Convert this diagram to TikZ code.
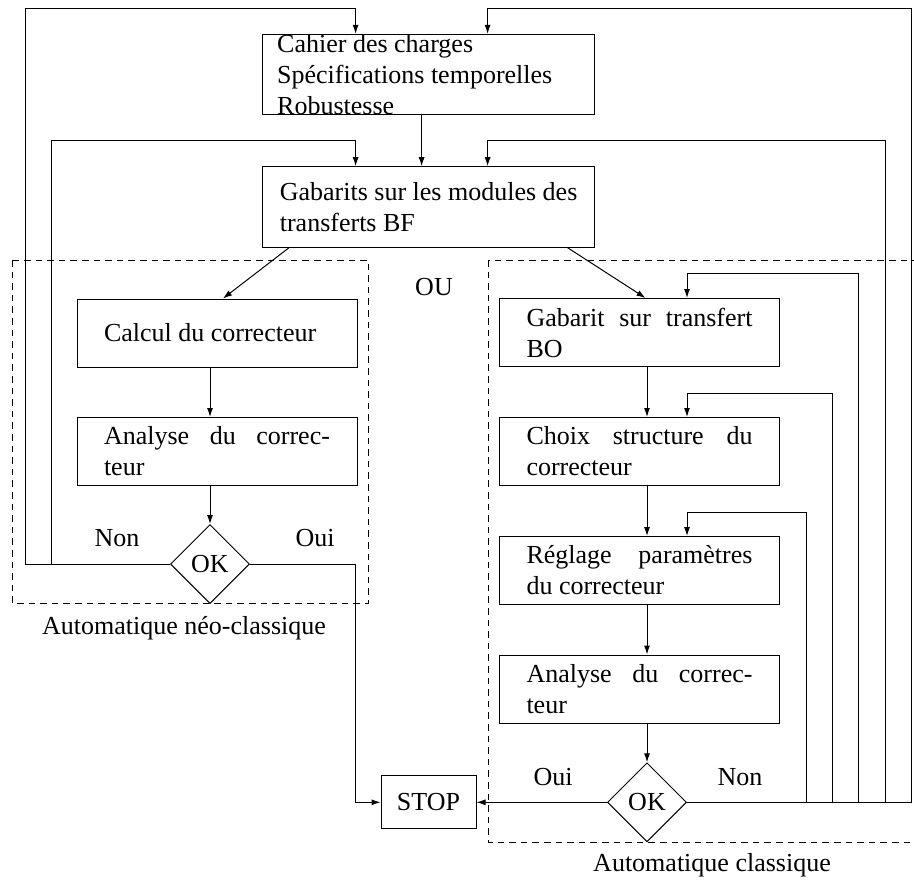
\documentclass[tikz,border=0pt]{standalone}
\usepackage{fontspec}
\setmainfont{Liberation Serif}
\usetikzlibrary{shapes.geometric,arrows.meta}
\begin{document}
\begin{tikzpicture}[x=0.5pt,y=-0.5pt,line width=0.5pt,>={Latex[length=4.5pt,width=3pt]},
	font=\fontsize{13}{15.5}\selectfont,
	boite/.style={draw,minimum width=140pt,minimum height=34pt,text width=113pt,inner xsep=13.5pt,align=justify},
	grande/.style={draw,minimum width=165.8pt,minimum height=40.3pt},
	test/.style={draw,shape=diamond,aspect=1,minimum width=39.5pt,minimum height=39.5pt,inner sep=0pt},
	zone/.style={dash pattern=on 3.3pt off 2.5pt}]
	\useasboundingbox (0,0) rectangle (914,882);
	\node[grande] (cahier) at (428.6,74.7) {};
	\node[anchor=north west,inner sep=0pt,align=left] (cahiertxt) at ([xshift=7.2pt]cahier.north west) {Cahier des charges\\Spécifications temporelles\\Robustesse};
	\node[grande,align=left] (gabarits) at (428.6,207) {Gabarits sur les modules des\\transferts BF\hspace*{\fill}};
	\node[boite] (calcul) at (217,333) {Calcul du correcteur};
	\node[boite] (analyseN) at (217,451.5) {Analyse du correc-\linebreak teur};
	\node[test] (okN) at (210,564) {OK};
	\node[boite] (gabBO) at (639.5,332.5) {Gabarit sur transfert\linebreak BO};
	\node[boite] (choix) at (639.5,451.5) {Choix structure du\linebreak correcteur};
	\node[boite] (reglage) at (639.5,570.5) {Réglage paramètres\linebreak du correcteur};
	\node[boite] (analyseC) at (639.5,689) {Analyse du correc-\linebreak teur};
	\node[test] (okC) at (647,802.3) {OK};
	\node[draw,minimum width=47.5pt,minimum height=26.5pt] (stop) at (428.5,802.3) {STOP};
	\draw[zone] (12,260) rectangle (368.5,603);
	\draw[zone] (488,260) rectangle (916,842);
	\node (ou) at (434,287) {OU};
	\node (non1) at (117,538) {Non};
	\node (oui1) at (315,538) {Oui};
	\node (oui2) at (553,777) {Oui};
	\node (non2) at (740,777) {Non};
	\node (neo) at (184,628) {Automatique néo-classique};
	\node (classique) at (712,865) {Automatique classique};
	\draw[->] ([xshift=-3.5pt]cahier.south) -- ([xshift=-3.5pt]gabarits.north);
	\draw[->] ([xshift=13.3pt]gabarits.south west) -- ([xshift=3pt]calcul.north);
	\draw[->] ([xshift=-13.6pt]gabarits.south east) -- ([xshift=3pt]gabBO.north);
	\draw[->] (calcul.south -| okN) -- (analyseN.north -| okN);
	\draw[->] (analyseN.south -| okN) -- (okN.north);
	\draw[->] (okN.west) -| (25,9) -| ([xshift=-36.5pt]cahier.north);
	\draw[->] (okN.west) -| (51,141) -| ([xshift=-36.5pt]gabarits.north);
	\draw[->] (okN.east) -| ([xshift=-12.5pt]stop.west) -- (stop.west);
	\draw[->] (gabBO.south -| okC) -- (choix.north -| okC);
	\draw[->] (choix.south -| okC) -- (reglage.north -| okC);
	\draw[->] (reglage.south -| okC) -- (analyseC.north -| okC);
	\draw[->] (analyseC.south -| okC) -- (okC.north);
	\draw[->] (okC.west) -- (stop.east);
	\draw[->] (okC.east) -| (911,9) -| ([xshift=29.5pt]cahier.north);
	\draw[->] (okC.east) -| (885,141) -| ([xshift=29.5pt]gabarits.north);
	\draw[->] (okC.east) -| (858,273) -| (gabBO.north -| okC.east);
	\draw[->] (okC.east) -| (832,393) -| (choix.north -| okC.east);
	\draw[->] (okC.east) -| (806,512) -| (reglage.north -| okC.east);
\end{tikzpicture}
\end{document}
